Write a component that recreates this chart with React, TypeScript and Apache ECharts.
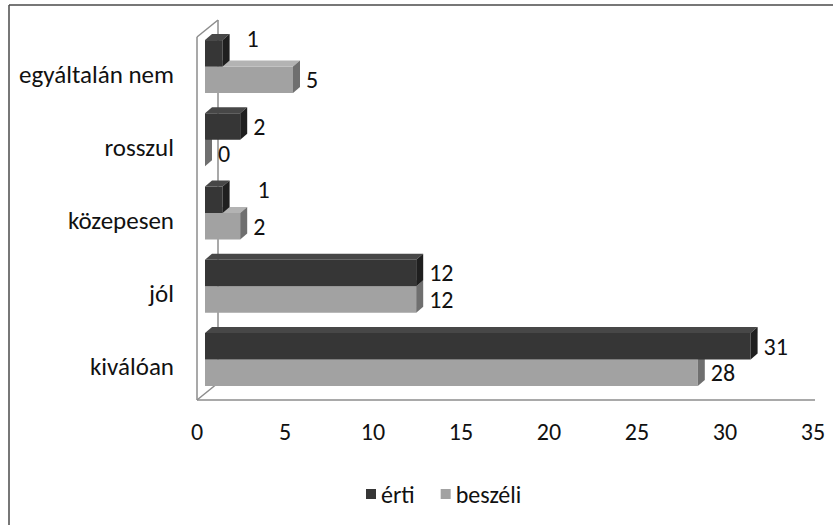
import React, { useEffect, useRef } from "react";
import * as echarts from "echarts";

const CATEGORIES = ["egyáltalán nem", "rosszul", "közepesen", "jól", "kiválóan"];
const SERIES_NAMES = ["érti", "beszéli"];
const ERTI = [1, 2, 1, 12, 31];
const BESZELI = [5, 0, 2, 12, 28];
const X_MIN = 0;
const X_MAX = 35;
const X_INTERVAL = 5;

const FONT = "Carlito, Lato, sans-serif";
const FS = 24;
const FS_CAT = 25;

// 3D look of the bars: face colours
const FACES = [
  { front: "#363636", top: "#474747", side: "#1f1f1f" },
  { front: "#a2a2a2", top: "#b3b3b3", side: "#6f6f6f" },
];
// manual label nudges seen in the original (series, index) -> [dx, dy]
const LABEL_NUDGE: Record<string, [number, number]> = {
  "0-0": [11, -15],
  "0-2": [22, -10],
};

function makeRender(which: number) {
  const c = FACES[which];
  return (params: any, api: any) => {
    const cat = api.value(0);
    const v = api.value(1);
    const p0 = api.coord([0, cat]);
    const p1 = api.coord([v, cat]);
    const band = api.size([0, 1])[1];
    const h = band * 0.362;
    const dx = 7;
    const dy = 6;
    const shift = 8;
    const x0 = p0[0] + shift;
    const x1 = p1[0] + shift;
    const yTop = which === 0 ? p0[1] - h : p0[1];
    const nudge = LABEL_NUDGE[which + "-" + params.dataIndex] || [0, 0];
    return {
      type: "group",
      children: [
        {
          type: "rect",
          shape: { x: x0, y: yTop, width: Math.max(x1 - x0, 0), height: h },
          style: { fill: c.front },
        },
        {
          type: "polygon",
          shape: {
            points: [
              [x0, yTop],
              [x0 + dx, yTop - dy],
              [x1 + dx, yTop - dy],
              [x1, yTop],
            ],
          },
          style: { fill: c.top },
        },
        {
          type: "polygon",
          shape: {
            points: [
              [x1, yTop],
              [x1 + dx, yTop - dy],
              [x1 + dx, yTop + h - dy],
              [x1, yTop + h],
            ],
          },
          style: { fill: c.side },
        },
        {
          type: "text",
          style: {
            text: String(v),
            x: x1 + dx + 6 + nudge[0],
            y: yTop + h / 2 + nudge[1],
            fill: "#111",
            fontSize: FS,
            fontFamily: FONT,
            align: "left",
            verticalAlign: "middle",
          },
        },
      ],
    };
  };
}

export default function App() {
  const ref = useRef<HTMLDivElement>(null);
  useEffect(() => {
    if (!ref.current) return;
    const chart = echarts.init(ref.current, null, { renderer: "svg" });
    const frame = "#8c8c8c";
    chart.setOption({
      animation: false,
      backgroundColor: "#ffffff",
      textStyle: { fontFamily: FONT },
      grid: { left: 197, right: 20, top: 30, height: 366, containLabel: false },
      legend: {
        data: SERIES_NAMES,
        left: 361,
        top: 477,
        itemWidth: 10,
        itemHeight: 10,
        itemGap: 26,
        icon: "rect",
        textStyle: { fontSize: FS, color: "#111", fontFamily: FONT },
      },
      xAxis: {
        type: "value",
        min: X_MIN,
        max: X_MAX,
        interval: X_INTERVAL,
        axisLine: { show: false },
        axisTick: { show: false },
        splitLine: { show: false },
        axisLabel: { margin: 23, fontSize: FS, color: "#111", fontFamily: FONT },
      },
      yAxis: {
        type: "category",
        data: CATEGORIES,
        inverse: true,
        axisLine: { show: false },
        axisTick: { show: false },
        axisLabel: {
          margin: 23,
          fontSize: FS_CAT,
          color: "#111",
          fontFamily: FONT,
          verticalAlign: "top",
          lineHeight: 15,
        },
      },
      graphic: [
        { type: "line", z: 0, shape: { x1: 9, y1: 5, x2: 833, y2: 5 }, style: { stroke: "#4a4a4a", lineWidth: 1.5 } },
        { type: "line", z: 0, shape: { x1: 9, y1: 5, x2: 9, y2: 525 }, style: { stroke: "#4a4a4a", lineWidth: 1.5 } },
        { type: "line", z: 0, shape: { x1: 197, y1: 37, x2: 197, y2: 400 }, style: { stroke: frame, lineWidth: 1.5 } },
        { type: "line", z: 0, shape: { x1: 197, y1: 37, x2: 218, y2: 20 }, style: { stroke: frame, lineWidth: 1.5 } },
        { type: "line", z: 0, shape: { x1: 218, y1: 20, x2: 218, y2: 383 }, style: { stroke: frame, lineWidth: 1.5 } },
        { type: "line", z: 0, shape: { x1: 197, y1: 400, x2: 218, y2: 383 }, style: { stroke: frame, lineWidth: 1.5 } },
        { type: "line", z: 0, shape: { x1: 197, y1: 400, x2: 815, y2: 400 }, style: { stroke: frame, lineWidth: 1.5 } },
      ],
      series: [
        {
          name: SERIES_NAMES[1],
          type: "custom",
          z: 2,
          itemStyle: { color: FACES[1].front },
          encode: { y: 0, x: 1 },
          data: CATEGORIES.map((_, i) => [i, BESZELI[i]]),
          renderItem: makeRender(1),
        },
        {
          name: SERIES_NAMES[0],
          type: "custom",
          z: 3,
          itemStyle: { color: FACES[0].front },
          encode: { y: 0, x: 1 },
          data: CATEGORIES.map((_, i) => [i, ERTI[i]]),
          renderItem: makeRender(0),
        },
      ],
    });
    return () => chart.dispose();
  }, []);
  return (
    <div
      ref={ref}
      style={{ position: "fixed", left: 0, top: 0, width: 833, height: 525 }}
    />
  );
}
